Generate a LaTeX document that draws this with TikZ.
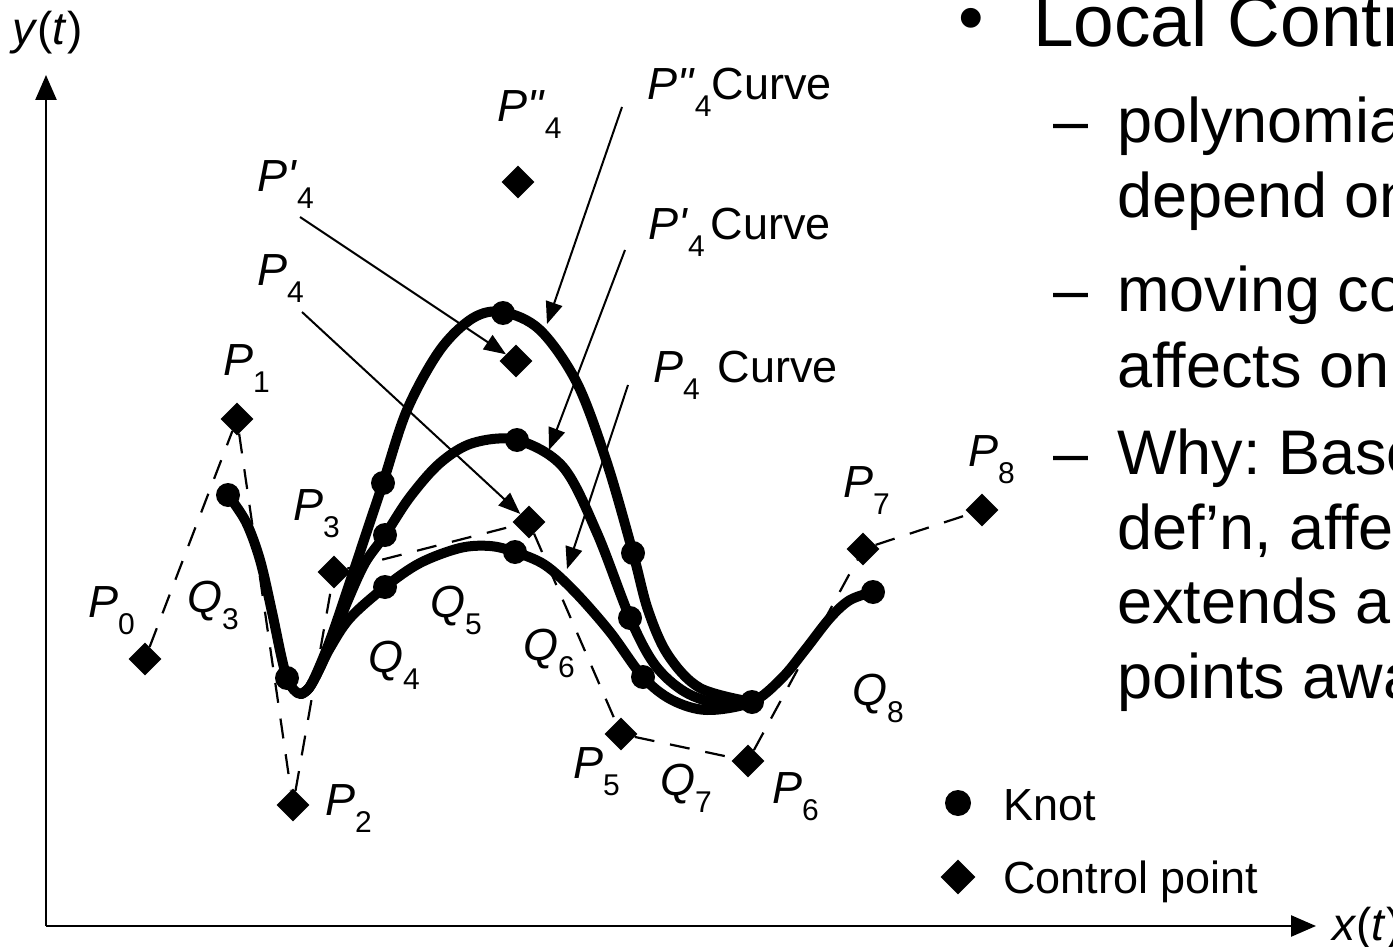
\documentclass[tikz,border=0pt]{standalone}
\usepackage{fontspec}
\setmainfont{Liberation Sans}
\newfontfamily\labfont{Liberation Sans}[Ligatures=TeXOff]
\usetikzlibrary{shapes.geometric,arrows.meta}
\frenchspacing

% subscript set low and large, as in the figure labels
\newcommand{\lowsub}[1]{\raisebox{-17pt}{\fontsize{30}{30}\selectfont #1}}

\tikzset{
  knot/.style={circle,fill=black,inner sep=0pt,minimum size=24pt},
  ctrlpt/.style={diamond,fill=black,inner sep=0pt,minimum size=33pt},
  polygon/.style={line width=2.2pt,dash pattern=on 20pt off 16pt},
  spline/.style={line width=10pt,line cap=round,line join=round},
  pointer/.style={line width=2pt,-{Triangle[length=22pt,width=17pt]}},
  axis/.style={line width=2.5pt,-{Triangle[length=25pt,width=21pt]}},
  lbl/.style={anchor=base west,inner sep=0pt,font=\labfont\fontsize{45}{45}\selectfont},
  body/.style={anchor=base west,inner sep=0pt,font=\fontsize{63}{75}\selectfont},
  head/.style={anchor=base west,inner sep=0pt,font=\fontsize{73}{88}\selectfont},
}

\begin{document}
\begin{tikzpicture}[x=1pt,y=-1pt]
\useasboundingbox (0,0) rectangle (1393,947);
\clip (0,0) rectangle (1393,947);

% ---------- axes ----------
\coordinate (O) at (46,926);
\coordinate (ytip) at (46,75);
\coordinate (xtip) at (1316,926);
\draw[axis] (O) -- (ytip);
\draw[axis] (O) -- (xtip);
\node[lbl,font=\labfont\fontsize{46}{46}\selectfont] (ylab) at (12,45) {\textit{y}(\textit{t})};
\node[lbl,font=\labfont\fontsize{46}{46}\selectfont] (xlab) at (1332,940) {\textit{x}(\textit{t})};

% ---------- control points ----------
\node[ctrlpt] (P0) at (145,659) {};
\node[ctrlpt] (P1) at (237,419) {};
\node[ctrlpt] (P2) at (293,805) {};
\node[ctrlpt] (P3) at (334,572) {};
\node[ctrlpt] (P4) at (529,522) {};
\node[ctrlpt] (P4a) at (516,361) {};
\node[ctrlpt] (P4b) at (518,182) {};
\node[ctrlpt] (P5) at (621,734) {};
\node[ctrlpt] (P6) at (748,761) {};
\node[ctrlpt] (P7) at (863,549) {};
\node[ctrlpt] (P8) at (982,510) {};

% control polygon
\draw[polygon] (P0) -- (P1) -- (P2) -- (P3) -- (P4) -- (P5) -- (P6) -- (P7) -- (P8);

% ---------- curves ----------
% curve for the original P4
\draw[spline] plot[smooth,tension=0.55] coordinates {
  (228,495) (246,522) (260,560) (272,612) (281,655) (287,678) (294,690)
  (301,694) (309,688) (318,672) (330,648) (350,618) (385,587) (420,563)
  (460,548) (490,546) (515,552) (545,565) (575,592) (610,632) (643,677)
  (672,700) (707,710) (752,702) (782,678) (805,650) (830,618) (850,600)
  (873,592)};
% curve for P'4
\draw[spline] plot[smooth,tension=0.55] coordinates {
  (301,694) (309,688) (318,672) (332,640) (348,600) (365,563) (385,535)
  (410,497) (440,463) (473,443) (517,440) (563,467) (597,533) (630,618)
  (655,665) (685,692) (720,704) (752,702)};
% curve for P''4
\draw[spline] plot[smooth,tension=0.55] coordinates {
  (301,694) (309,688) (318,670) (332,635) (350,582) (368,528) (383,483)
  (407,410) (440,350) (473,318) (503,312) (540,330) (577,383) (607,463)
  (633,553) (648,610) (668,655) (700,688) (752,702)};

% ---------- knots ----------
\node[knot] (K3) at (228,495) {};
\node[knot] (K4) at (287,678) {};
\node[knot] (K5) at (385,587) {};
\node[knot] (K6) at (515,552) {};
\node[knot] (K7) at (643,677) {};
\node[knot] (K8) at (752,702) {};
\node[knot] (K9) at (873,592) {};
\node[knot] (K5a) at (385,535) {};
\node[knot] (K6a) at (517,440) {};
\node[knot] (K7a) at (630,618) {};
\node[knot] (K5b) at (383,483) {};
\node[knot] (K6b) at (503,313) {};
\node[knot] (K7b) at (633,553) {};

% ---------- pointers ----------
\coordinate (sP4a) at (300,217);
\coordinate (sP4) at (302,312);
\coordinate (sCb) at (622,107);
\coordinate (tCb) at (547,324);
\coordinate (sCa) at (625,250);
\coordinate (tCa) at (549,450);
\coordinate (sC) at (628,385);
\coordinate (tC) at (567,569);
\draw[pointer] (sP4a) -- (P4a);
\draw[pointer] (sP4) -- (P4);
\draw[pointer] (sCb) -- (tCb);
\draw[pointer] (sCa) -- (tCa);
\draw[pointer] (sC) -- (tC);

% ---------- labels ----------
\node[lbl] (lP0) at (88,617) {\textit{P}\lowsub{0}};
\node[lbl] (lP1) at (223,375) {\textit{P}\lowsub{1}};
\node[lbl] (lP2) at (325,815) {\textit{P}\lowsub{2}};
\node[lbl] (lP3) at (293,520) {\textit{P}\lowsub{3}};
\node[lbl] (lP4) at (257,285) {\textit{P}\lowsub{4}};
\node[lbl] (lP4a) at (257,192) {\textit{P'}\lowsub{4}};
\node[lbl] (lP4b) at (497,122) {\textit{P"}\lowsub{4}};
\node[lbl] (lP5) at (573,778) {\textit{P}\lowsub{5}};
\node[lbl] (lP6) at (772,803) {\textit{P}\lowsub{6}};
\node[lbl] (lP7) at (843,497) {\textit{P}\lowsub{7}};
\node[lbl] (lP8) at (968,466) {\textit{P}\lowsub{8}};
\node[lbl] (lQ3) at (187,612) {\textit{Q}\lowsub{3}};
\node[lbl] (lQ4) at (368,672) {\textit{Q}\lowsub{4}};
\node[lbl] (lQ5) at (430,617) {\textit{Q}\lowsub{5}};
\node[lbl] (lQ6) at (523,660) {\textit{Q}\lowsub{6}};
\node[lbl] (lQ7) at (660,795) {\textit{Q}\lowsub{7}};
\node[lbl] (lQ8) at (852,705) {\textit{Q}\lowsub{8}};
\node[lbl] (lCb) at (647,100) {\textit{P"}\lowsub{4}Curve};
\node[lbl] (lCa) at (648,240) {\textit{P'}\lowsub{4}\hspace{6pt}Curve};
\node[lbl] (lC) at (653,382) {\textit{P}\lowsub{4}\hspace{18pt}Curve};

% ---------- legend ----------
\node[knot,minimum size=26pt] (legK) at (958,803) {};
\node[ctrlpt,minimum size=35pt] (legC) at (958,877) {};
\node[lbl,font=\fontsize{45}{45}\selectfont] (legKt) at (1003,820) {Knot};
\node[lbl,font=\fontsize{45}{45}\selectfont] (legCt) at (1003,893) {Control point};

% ---------- notes ----------
\node[head] (bul) at (958,43) {•};
\node[head] (t0) at (1033,47) {Local Contr};
\node[body] (d1) at (1053,143) {–};
\node[body] (t1) at (1117,143) {polynomia};
\node[body] (t2) at (1117,218) {depend on};
\node[body] (d2) at (1053,311) {–};
\node[body] (t3) at (1117,311) {moving co};
\node[body] (t4) at (1117,387) {affects on};
\node[body] (d3) at (1053,474) {–};
\node[body] (t5) at (1117,474) {Why: Base};
\node[body] (t6) at (1117,549) {def’n, affe};
\node[body] (t7) at (1117,623) {extends a};
\node[body] (t8) at (1117,698) {points awa};
\end{tikzpicture}
\end{document}
